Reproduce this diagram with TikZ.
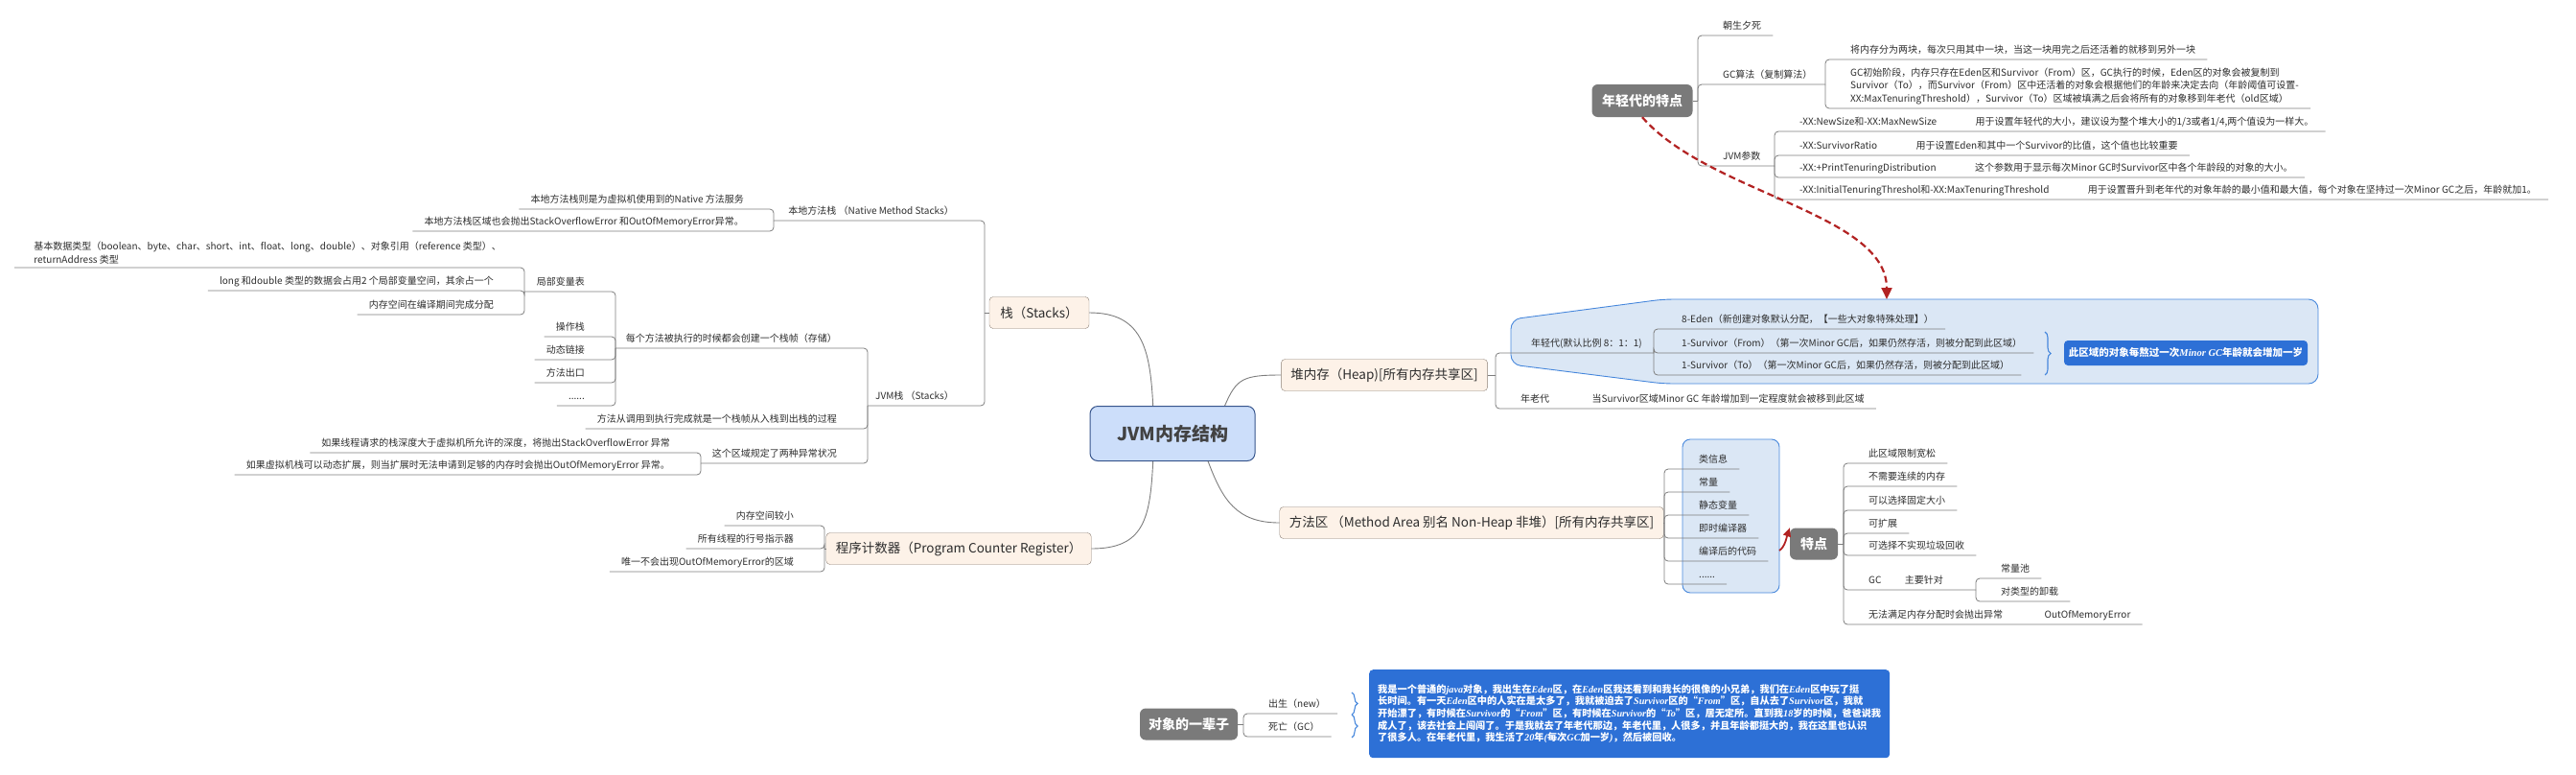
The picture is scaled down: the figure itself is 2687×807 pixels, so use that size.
\documentclass[tikz,border=0pt]{standalone}
\usepackage{fontspec}
\setmainfont{Noto Sans CJK SC}
\newfontfamily\lserif{Liberation Serif}
\usetikzlibrary{positioning,arrows.meta,decorations.pathreplacing}

\definecolor{linegray}{RGB}{125,125,125}
\definecolor{txt}{RGB}{45,45,45}
\definecolor{peach}{RGB}{253,242,232}
\definecolor{peachline}{RGB}{140,128,118}
\definecolor{rootfill}{RGB}{204,222,250}
\definecolor{rootline}{RGB}{55,85,140}
\definecolor{tagfill}{RGB}{122,122,122}
\definecolor{zonefill}{RGB}{219,231,245}
\definecolor{zoneline}{RGB}{70,135,220}
\definecolor{notefill}{RGB}{45,112,214}
\definecolor{relred}{RGB}{178,34,34}

\newcommand{\ltn}[1]{{\lserif\itshape #1}}

\tikzset{
  conn/.style={draw=linegray, line width=0.8pt, rounded corners=4pt},
  branch/.style={draw=linegray, line width=0.9pt},
  leaf/.style={inner xsep=12pt, inner ysep=4pt, text=txt, font=\fontsize{10}{13.5}\selectfont},
  rleaf/.style={leaf, anchor=south west, text height=8.5pt, text depth=2pt},
  lleaf/.style={rleaf, anchor=south east},
  topic/.style={draw=peachline, fill=peach, rounded corners=4pt, minimum height=33pt,
    inner xsep=10pt, text=txt, font=\fontsize{13.5}{16}\selectfont},
  tag/.style={fill=tagfill, rounded corners=6pt, minimum height=34pt, inner xsep=9pt,
    text=white, font=\bfseries\fontsize{14}{16}\selectfont},
  zone/.style={draw=zoneline, fill=zonefill, line width=0.9pt, rounded corners=10pt},
  note/.style={fill=notefill, rounded corners=4pt, text=white},
  curly/.style={draw=zoneline, line width=1.1pt, decorate,
    decoration={brace, amplitude=6pt}},
  rel/.style={draw=relred, line width=2.2pt, dash pattern=on 7pt off 4pt,
    -{Triangle[length=12pt,width=11pt]}},
}

\begin{document}
\begin{tikzpicture}[x=1pt,y=-1pt]
\useasboundingbox (0,0) rectangle (2687,807);

% backgrounds
\draw[zone] (1576,356) -- (1576,333) -- (1735,312) -- (2418,312) -- (2418,400)
  -- (1735,400) -- (1576,380) -- cycle;
\draw[zone, rounded corners=8pt] (1755,458) rectangle (1856,618);

% main topics
\node[draw=rootline, fill=rootfill, rounded corners=8pt, line width=1pt,
  minimum width=172pt, minimum height=57pt, text=txt!90,
  font=\bfseries\fontsize{19}{22}\selectfont] (root) at (1223,452) {JVM内存结构};
\node[topic, minimum width=104pt] (stk) at (1084,326) {栈（Stacks）};
\node[topic, minimum width=273pt] (pc) at (1000,572) {程序计数器（Program Counter Register）};
\node[topic, minimum width=212pt] (heap) at (1444,391) {堆内存（Heap)[所有内存共享区]};
\node[topic, minimum width=394pt] (ma) at (1535,545) {方法区 （Method Area 别名 Non-Heap 非堆）[所有内存共享区]};

\draw[branch] (root.125) .. controls +(-3,-60) and +(55,0) .. (stk.east);
\draw[branch] (root.-125) .. controls +(-3,60) and +(55,0) .. (pc.east);
\draw[branch] (root.28) .. controls +(12,-28) and +(-40,0) .. (heap.west);
\draw[branch] (root.-38) .. controls +(15,40) and +(-45,0) .. (ma.west);

% stacks
\coordinate (sj) at (1027,326);
\coordinate (s1j) at (807,230);
\coordinate (s2j) at (905,423);
\coordinate (k1j) at (642,363);
\coordinate (k3j) at (731,483);
\coordinate (z1j) at (547,304);
\node[lleaf] (s1) at (1007,230) {本地方法栈 （Native Method Stacks）};
\node[lleaf] (s2) at (1007,423) {JVM栈 （Stacks）};
\node[lleaf] (n1) at (788,218) {本地方法栈则是为虚拟机使用到的Native 方法服务};
\node[lleaf] (n2) at (788,241) {本地方法栈区域也会抛出StackOverflowError 和OutOfMemoryError异常。};
\node[lleaf] (k1) at (885,363) {每个方法被执行的时候都会创建一个栈帧（存储）};
\node[lleaf] (k2) at (885,447) {方法从调用到执行完成就是一个栈帧从入栈到出栈的过程};
\node[lleaf] (k3) at (885,483) {这个区域规定了两种异常状况};
\node[lleaf] (z1) at (622,304) {局部变量表};
\node[lleaf] (z2) at (622,351) {操作栈};
\node[lleaf] (z3) at (622,375) {动态链接};
\node[lleaf] (z4) at (622,399) {方法出口};
\node[lleaf] (z5) at (622,423) {......};
\node[leaf, anchor=south east, align=left, inner xsep=8pt] (w1) at (531,279)
  {基本数据类型（boolean、byte、char、short、int、float、long、double）、对象引用（reference 类型）、\\returnAddress 类型};
\node[lleaf] (w2) at (527,303) {long 和double 类型的数据会占用2 个局部变量空间，其余占一个};
\node[lleaf] (w3) at (527,328) {内存空间在编译期间完成分配};
\node[lleaf] (x1) at (711,472) {如果线程请求的栈深度大于虚拟机所允许的深度，将抛出StackOverflowError 异常};
\node[lleaf] (x2) at (711,495) {如果虚拟机栈可以动态扩展，则当扩展时无法申请到足够的内存时会抛出OutOfMemoryError 异常。};
\draw[conn] (stk.west) -- (sj);
\draw[conn] (sj) |- (s1.south east) -- (s1j);
\draw[conn] (sj) |- (s2.south east) -- (s2j);
\draw[conn] (s1j) |- (n1.south east) -- (n1.south west);
\draw[conn] (s1j) |- (n2.south east) -- (n2.south west);
\draw[conn] (s2j) |- (k1.south east) -- (k1j);
\draw[conn] (s2j) |- (k2.south east) -- (k2.south west);
\draw[conn] (s2j) |- (k3.south east) -- (k3j);
\draw[conn] (k1j) |- (z1.south east) -- (z1j);
\draw[conn] (k1j) |- (z2.south east) -- (z2.south west);
\draw[conn] (k1j) |- (z3.south east) -- (z3.south west);
\draw[conn] (k1j) |- (z4.south east) -- (z4.south west);
\draw[conn] (k1j) |- (z5.south east) -- (z5.south west);
\draw[conn] (z1j) |- (w1.south east) -- (15,279);
\draw[conn] (z1j) |- (w2.south east) -- (w2.south west);
\draw[conn] (z1j) |- (w3.south east) -- (w3.south west);
\draw[conn] (k3j) |- (x1.south east) -- (x1.south west);
\draw[conn] (k3j) |- (x2.south east) -- (x2.south west);

% program counter
\coordinate (qj) at (860,572);
\node[lleaf] (q1) at (840,548) {内存空间较小};
\node[lleaf] (q2) at (840,572) {所有线程的行号指示器};
\node[lleaf] (q3) at (840,596) {唯一不会出现OutOfMemoryError的区域};
\draw[conn] (pc.west) -- (qj);
\foreach \q in {q1,q2,q3}
  \draw[conn] (qj) |- (\q.south east) -- (\q.south west);

% young generation
\node[tag, minimum width=105pt] (ynt) at (1713,105) {年轻代的特点};
\coordinate (yj) at (1771,105);
\coordinate (gcj) at (1904,88);
\coordinate (jvj) at (1851,173);
\node[rleaf] (t1) at (1785,37) {朝生夕死};
\node[rleaf] (t2) at (1785,88) {GC算法（复制算法）};
\node[rleaf] (t3) at (1785,173) {JVM参数};
\node[rleaf] (g1) at (1918,62) {将内存分为两块，每次只用其中一块，当这一块用完之后还活着的就移到另外一块};
\node[leaf, anchor=south west, align=left] (g2) at (1918,113)
  {GC初始阶段，内存只存在Eden区和Survivor（From）区，GC执行的时候，Eden区的对象会被复制到\\
   Survivor（To），而Survivor（From）区中还活着的对象会根据他们的年龄来决定去向（年龄阈值可设置-\\
   XX:MaxTenuringThreshold），Survivor（To）区域被填满之后会将所有的对象移到年老代（old区域）};
\node[rleaf] (p1) at (1865,137) {-XX:NewSize和-XX:MaxNewSize};
\node[rleaf] (p2) at (1865,162) {-XX:SurvivorRatio};
\node[rleaf] (p3) at (1865,185) {-XX:+PrintTenuringDistribution};
\node[rleaf] (p4) at (1865,208) {-XX:InitialTenuringThreshol和-XX:MaxTenuringThreshold};
\node[rleaf, right=16pt of p1.south east, anchor=south west] (d1) {用于设置年轻代的大小，建议设为整个堆大小的1/3或者1/4,两个值设为一样大。};
\node[rleaf, right=16pt of p2.south east, anchor=south west] (d2) {用于设置Eden和其中一个Survivor的比值，这个值也比较重要};
\node[rleaf, right=16pt of p3.south east, anchor=south west] (d3) {这个参数用于显示每次Minor GC时Survivor区中各个年龄段的对象的大小。};
\node[rleaf, right=16pt of p4.south east, anchor=south west] (d4) {用于设置晋升到老年代的对象年龄的最小值和最大值，每个对象在坚持过一次Minor GC之后，年龄就加1。};
\draw[conn] (ynt.east) -- (yj);
\draw[conn] (yj) |- (t1.south west) -- (t1.south east);
\draw[conn] (yj) |- (t2.south west) -- (gcj);
\draw[conn] (yj) |- (t3.south west) -- (jvj);
\draw[conn] (gcj) |- (g1.south west) -- (g1.south east);
\draw[conn] (gcj) |- (g2.south west) -- (g2.south east);
\draw[conn] (jvj) |- (p1.south west) -- (d1.south east);
\draw[conn] (jvj) |- (p2.south west) -- (d2.south east);
\draw[conn] (jvj) |- (p3.south west) -- (d3.south east);
\draw[conn] (jvj) |- (p4.south west) -- (d4.south east);

% heap
\coordinate (hj) at (1560,391);
\coordinate (yb) at (1725,368);
\node[rleaf] (h1) at (1585,368) {年轻代(默认比例 8：1：1)};
\node[rleaf] (h2) at (1574,426) {年老代};
\node[rleaf, right=20pt of h2.south east, anchor=south west] (h2d) {当Survivor区域Minor GC 年龄增加到一定程度就会被移到此区域};
\node[rleaf] (e1) at (1742,343) {8-Eden（新创建对象默认分配，【一些大对象特殊处理】）};
\node[rleaf] (e2) at (1742,368) {1-Survivor（From）（第一次Minor GC后，如果仍然存活，则被分配到此区域）};
\node[rleaf] (e3) at (1742,391) {1-Survivor（To）（第一次Minor GC后，如果仍然存活，则被分配到此区域）};
\node[note, minimum width=254pt, minimum height=26pt, font=\bfseries\fontsize{10.5}{12}\selectfont]
  (age) at (2280,368) {此区域的对象每熬过一次\ltn{Minor GC}年龄就会增加一岁};
\draw[conn] (heap.east) -- (hj);
\draw[conn] (hj) |- (h1.south west) -- (yb);
\draw[conn] (hj) |- (h2.south west) -- (h2d.south east);
\foreach \e in {e1,e2,e3}
  \draw[conn] (yb) |- (\e.south west) -- (\e.south east);
\draw[curly] (2133,346) -- (2133,391);

% method area
\coordinate (mj) at (1736,545);
\node[rleaf] (m1) at (1760,489) {类信息};
\node[rleaf] (m2) at (1760,513) {常量};
\node[rleaf] (m3) at (1760,537) {静态变量};
\node[rleaf] (m4) at (1760,561) {即时编译器};
\node[rleaf] (m5) at (1760,585) {编译后的代码};
\node[rleaf] (m6) at (1760,609) {......};
\draw[conn] (ma.east) -- (mj);
\foreach \m in {m1,m2,m3,m4,m5,m6}
  \draw[conn] (mj) |- (\m.south west) -- (\m.south east);

\node[tag, minimum width=50pt, minimum height=33pt] (tedian) at (1892,567) {特点};
\coordinate (tj) at (1923,567);
\coordinate (gj) at (2061,615);
\node[rleaf] (f1) at (1937,483) {此区域限制宽松};
\node[rleaf] (f2) at (1937,507) {不需要连续的内存};
\node[rleaf] (f3) at (1937,532) {可以选择固定大小};
\node[rleaf] (f4) at (1937,556) {可扩展};
\node[rleaf] (f5) at (1937,579) {可选择不实现垃圾回收};
\node[rleaf] (f6) at (1937,615) {GC};
\node[rleaf, right=0pt of f6.south east, anchor=south west] (f6b) {主要针对};
\node[rleaf] (c1) at (2075,603) {常量池};
\node[rleaf] (c2) at (2075,627) {对类型的卸载};
\node[rleaf] (f7) at (1937,651) {无法满足内存分配时会抛出异常};
\node[rleaf, right=19pt of f7.south east, anchor=south west] (f7b) {OutOfMemoryError};
\draw[conn] (tedian.east) -- (tj);
\foreach \f in {f1,f2,f3,f4,f5}
  \draw[conn] (tj) |- (\f.south west) -- (\f.south east);
\draw[conn] (tj) |- (f6.south west) -- (gj);
\draw[conn] (tj) |- (f7.south west) -- (f7b.south east);
\draw[conn] (gj) |- (c1.south west) -- (c1.south east);
\draw[conn] (gj) |- (c2.south west) -- (c2.south east);

% life of an object
\node[tag, minimum width=101pt, minimum height=33pt] (life) at (1240,755) {对象的一辈子};
\coordinate (lj) at (1297,755);
\node[rleaf] (b1) at (1311,744) {出生（new）};
\node[rleaf] (b2) at (1311,768) {死亡（GC）};
\draw[conn] (life.east) -- (lj);
\draw[conn] (lj) |- (b1.south west) -- (b1.south east);
\draw[conn] (lj) |- (b2.south west) -- (b2.south east);
\draw[curly] (1410,722) -- (1410,745);
\draw[curly] (1410,745) -- (1410,769);
\node[note, anchor=north west, align=left, minimum width=520pt, minimum height=92pt,
  inner xsep=9pt, inner ysep=8pt, font=\bfseries\fontsize{10.2}{12.7}\selectfont] (story) at (1428,698)
  {我是一个普通的\ltn{java}对象，我出生在\ltn{Eden}区，在\ltn{Eden}区我还看到和我长的很像的小兄弟，我们在\ltn{Eden}区中玩了挺\\
   长时间。有一天\ltn{Eden}区中的人实在是太多了，我就被迫去了\ltn{Survivor}区的“\ltn{From}”区，自从去了\ltn{Survivor}区，我就\\
   开始漂了，有时候在\ltn{Survivor}的“\ltn{From}”区，有时候在\ltn{Survivor}的“\ltn{To}”区，居无定所。直到我\ltn{18}岁的时候，爸爸说我\\
   成人了，该去社会上闯闯了。于是我就去了年老代那边，年老代里，人很多，并且年龄都挺大的，我在这里也认识\\
   了很多人。在年老代里，我生活了\ltn{20}年\ltn{(}每次\ltn{GC}加一岁\ltn{)}，然后被回收。};

% relationships
\coordinate (ytop) at (1968,312);
\coordinate (mreg) at (1856,574);
\draw[rel] (ynt.south) .. controls +(70,80) and +(0,-90) .. (ytop);
\draw[rel, dash pattern=on 20pt off 0pt, line width=1.8pt,
  -{Triangle[length=9pt,width=8pt]}] (mreg) .. controls +(6,-4) and +(-3,9) .. (tedian.north west);
\end{tikzpicture}
\end{document}
